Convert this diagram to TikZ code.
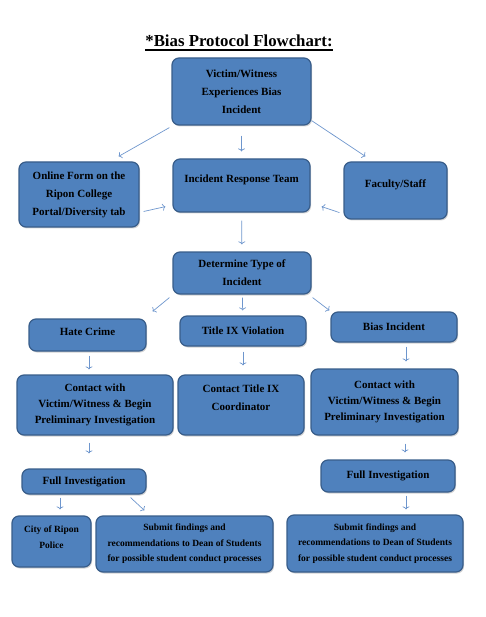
\documentclass[tikz,border=0pt]{standalone}
\usepackage{fontspec}
\setmainfont{Liberation Serif}
\usetikzlibrary{shadows,arrows.meta}
\definecolor{boxblue}{RGB}{79,129,189}
\definecolor{boxedge}{RGB}{56,93,138}
\definecolor{arrowblue}{RGB}{110,150,205}

\begin{document}
\begin{tikzpicture}[x=1pt,y=-1pt,
        box/.style={draw=boxedge,line width=1.2pt,fill=boxblue,rounded corners=7pt,
            align=center,inner sep=2pt,font=\bfseries\fontsize{11}{16}\selectfont,
            drop shadow={shadow xshift=1pt,shadow yshift=-1.5pt,opacity=.35}},
        smallbox/.style={box,font=\bfseries\fontsize{9.5}{15.5}\selectfont},
        wide/.style={font=\bfseries\fontsize{11}{18}\selectfont},
        link/.style={-{To[length=3pt,width=7pt]},draw=arrowblue,line width=.7pt}]
                        \useasboundingbox (0,0) rectangle (485,617);
                        % title
                        \node[anchor=base,inner sep=0pt,font=\bfseries\fontsize{16.8}{20}\selectfont]
                                    (title) at (239,47) {*Bias Protocol Flowchart:};
                        \draw[line width=1.3pt] ([yshift=-3pt]title.base west) -- ([yshift=-3pt]title.base east);
                        % boxes
                        \node[box,wide,minimum width=139pt,minimum height=67pt] (victim) at (241.5,91.5)
                                    {Victim/Witness\\Experiences Bias\\Incident};
                        \node[box,wide,minimum width=120pt,minimum height=65pt] (online) at (79,194.5)
                                    {Online Form on the\\Ripon College\\Portal/Diversity tab};
                        \node[box,minimum width=137pt,minimum height=53pt,text depth=13pt] (irt) at (241.5,185.5)
                                    {Incident Response Team};
                        \node[box,minimum width=103pt,minimum height=57pt,text depth=13.5pt] (faculty) at (395.5,190.5)
                                    {Faculty/Staff};
                        \node[box,wide,minimum width=138pt,minimum height=42pt] (determine) at (242,273)
                                    {Determine Type of\\Incident};
                        \node[box,minimum width=117pt,minimum height=32pt,text depth=6pt] (hate) at (87.5,335)
                                    {Hate Crime};
                        \node[box,minimum width=126pt,minimum height=30pt] (title9) at (243,331)
                                    {Title IX Violation};
                        \node[box,minimum width=126pt,minimum height=30pt] (bias) at (394,327)
                                    {Bias Incident};
                        \node[box,minimum width=156pt,minimum height=60pt] (contactL) at (95,405)
                                    {Contact with\\Victim/Witness \& Begin\\Preliminary Investigation};
                        \node[box,wide,minimum width=126pt,minimum height=60pt,text depth=14pt] (contactT) at (241,405)
                                    {Contact Title IX\\Coordinator};
                        \node[box,minimum width=147pt,minimum height=66pt] (contactR) at (384.5,402)
                                    {Contact with\\Victim/Witness \& Begin\\Preliminary Investigation};
                        \node[box,minimum width=124pt,minimum height=25pt] (fullL) at (84,481.5)
                                    {Full Investigation};
                        \node[box,minimum width=134pt,minimum height=32pt] (fullR) at (388,476)
                                    {Full Investigation};
                        \node[smallbox,minimum width=79pt,minimum height=51pt,text depth=9pt] (city) at (51.5,541.5)
                                    {City of Ripon\\Police};
                        \node[smallbox,minimum width=177pt,minimum height=56pt] (submitL) at (184.5,544)
                                    {Submit findings and\\recommendations to Dean of Students\\for possible student conduct processes};
                        \node[smallbox,minimum width=176pt,minimum height=57pt] (submitR) at (375,543.5)
                                    {Submit findings and\\recommendations to Dean of Students\\for possible student conduct processes};
                        % arrows
                        \draw[link] ([xshift=-2pt,yshift=-2pt]victim.south west) -- ([xshift=-21pt,yshift=5pt]online.north east);
                        \draw[link,shorten <=10pt,shorten >=7pt] (victim) -- (irt);
                        \draw[link] ([yshift=5pt]victim.south east) -- ([xshift=22pt,yshift=5pt]faculty.north west);
                        \draw[link] ([xshift=4pt,yshift=-17pt]online.east) -- ([xshift=-7pt,yshift=6pt]irt.south west);
                        \draw[link] ([xshift=-4pt,yshift=7pt]faculty.south west) -- ([xshift=11pt,yshift=6pt]irt.south east);
                        \draw[link,shorten <=8pt,shorten >=7pt] (irt) -- (determine);
                        \draw[link] ([xshift=-3pt,yshift=-3pt]determine.south west) -- ([xshift=6pt,yshift=7pt]hate.north east);
                        \draw[link,shorten <=3pt,shorten >=5pt] (determine) -- (title9);
                        \draw[link] ([xshift=1pt,yshift=-3pt]determine.south east) -- ([xshift=-1pt,yshift=1pt]bias.north west);
                        \draw[link,shorten <=4pt,shorten >=5pt] ([xshift=1.5pt]hate.south) -- ([xshift=1.5pt]hate.south |- contactL.north);
                        \draw[link,shorten <=5pt,shorten >=9pt] (title9.south) -- (title9.south |- contactT.north);
                        \draw[link,shorten <=4pt,shorten >=7pt] ([xshift=12pt]bias.south) -- ([xshift=12pt]bias.south |- contactR.north);
                        \draw[link,shorten <=7pt,shorten >=15pt] ([xshift=-6pt]contactL.south) -- ([xshift=-6pt]contactL.south |- fullL.north);
                        \draw[link,shorten <=8pt,shorten >=7pt] ([xshift=20.5pt]contactR.south) -- ([xshift=20.5pt]contactR.south |- fullR.north);
                        \draw[link,shorten <=3pt,shorten >=6pt] ([xshift=8.5pt]city.north |- fullL.south) -- ([xshift=8.5pt]city.north);
                        \draw[link] ([xshift=-16pt,yshift=-3pt]fullL.south east) -- ([xshift=49pt,yshift=5pt]submitL.north west);
                        \draw[link,shorten <=3pt,shorten >=5pt] ([xshift=18pt]fullR.south) -- ([xshift=18pt]fullR.south |- submitR.north);
                    \end{tikzpicture}
\end{document}
